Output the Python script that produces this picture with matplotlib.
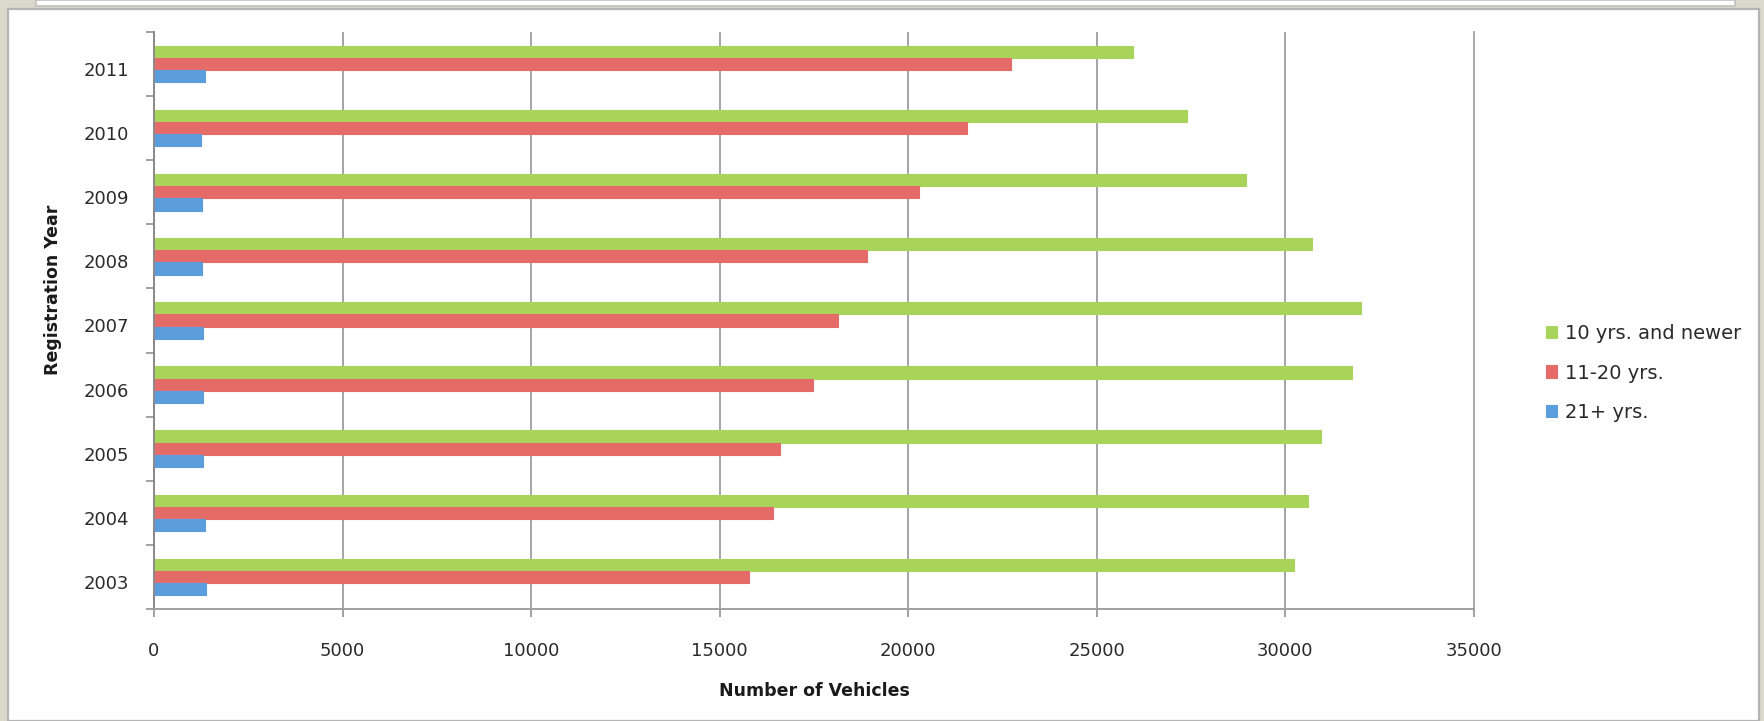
import matplotlib
matplotlib.use('Agg')
import matplotlib.pyplot as plt
import matplotlib.transforms as mtransforms
from matplotlib.patches import Rectangle
import numpy as np

# vehicle counts by registration year and vehicle age
years = ['2003', '2004', '2005', '2006', '2007', '2008', '2009', '2010', '2011']
newer = [30240, 30600, 30930, 31770, 32000, 30710, 28950, 27400, 25950]
mid_age = [15780, 16410, 16610, 17470, 18130, 18900, 20290, 21550, 22720]
old_age = [1380, 1340, 1290, 1290, 1290, 1280, 1260, 1240, 1350]
series_names = ['10 yrs. and newer', '11-20 yrs.', '21+ yrs.']

W, H = 1765, 721
fig = plt.figure(figsize=(W / 100, H / 100), dpi=100)
fig.patch.set_facecolor('#d9dacb')

# white slide panel with grey border
fig.patches.append(Rectangle((8 / W, 0), (1759 - 8) / W, 1 - 9 / H,
                             transform=fig.transFigure, facecolor='white',
                             edgecolor='#b4b4b4', lw=1.6, zorder=-2))
fig.patches.append(Rectangle((36 / W, 1 - 6 / H), (1735 - 36) / W, 6 / H,
                             transform=fig.transFigure, facecolor='white',
                             edgecolor='#c0c0c0', lw=1.2, zorder=-2))

ax = fig.add_axes([154 / W, 1 - 609 / H, 1320 / W, 577 / H])
ax.set_zorder(2)
ax.set_facecolor('white')

y = np.arange(len(years))
h = 0.19
g = ax.barh(y + h, newer, height=h, color='#a8d45c', edgecolor='#a8d45c',
            lw=0.8, joinstyle='round', label=series_names[0])
r = ax.barh(y, mid_age, height=h, color='#e56b69', edgecolor='#e56b69',
            lw=0.8, joinstyle='round', label=series_names[1])
b = ax.barh(y - h, old_age, height=h, color='#5c9ddd', edgecolor='#5c9ddd',
            lw=0.8, joinstyle='round', label=series_names[2])

ax.set_xlim(0, 35000)
ax.set_ylim(-0.5, len(years) - 0.5)
ax.set_xticks(range(0, 35001, 5000))
ax.xaxis.grid(True, color='#969696', lw=1.2)
ax.set_axisbelow(True)

ax.spines['top'].set_visible(False)
ax.spines['left'].set_color('#8a8a8a')
ax.spines['bottom'].set_color('#a0a0a0')
ax.spines['right'].set_color('#ababab')
for s in ('left', 'bottom', 'right'):
    ax.spines[s].set_linewidth(1.4)

ax.tick_params(axis='x', length=6, width=1.3, color='#9a9a9a', pad=18,
               labelsize=13, labelcolor='#2a2a2a')
ax.set_yticks(y, years)
ax.set_yticks(np.arange(-0.5, len(years), 1), minor=True)
ax.tick_params(axis='y', which='major', length=0, pad=18, labelsize=13,
               labelcolor='#2a2a2a')
ax.tick_params(axis='y', which='minor', length=6, width=1.3, color='#9a9a9a')
shift = mtransforms.ScaledTranslation(0, -5 / 100, fig.dpi_scale_trans)
for lab in ax.get_yticklabels():
    lab.set_transform(lab.get_transform() + shift)

fig.text(53 / W, 1 - 290 / H, 'Registration Year', rotation=90, ha='center',
         va='center', fontsize=12.5, fontweight='bold', color='#1a1a1a')
fig.text(814 / W, 1 - 691 / H, 'Number of Vehicles', ha='center', va='center',
         fontsize=12.5, fontweight='bold', color='#1a1a1a')

ax.legend(handles=[g, r, b], loc='center left',
          bbox_to_anchor=(1528 / W, 1 - 373 / H), bbox_transform=fig.transFigure,
          frameon=False, fontsize=14, handlelength=0.6, handleheight=0.6,
          handletextpad=0.4, labelspacing=1.05, labelcolor='#2a2a2a')

fig.savefig('out.png', dpi=100, facecolor=fig.get_facecolor())
